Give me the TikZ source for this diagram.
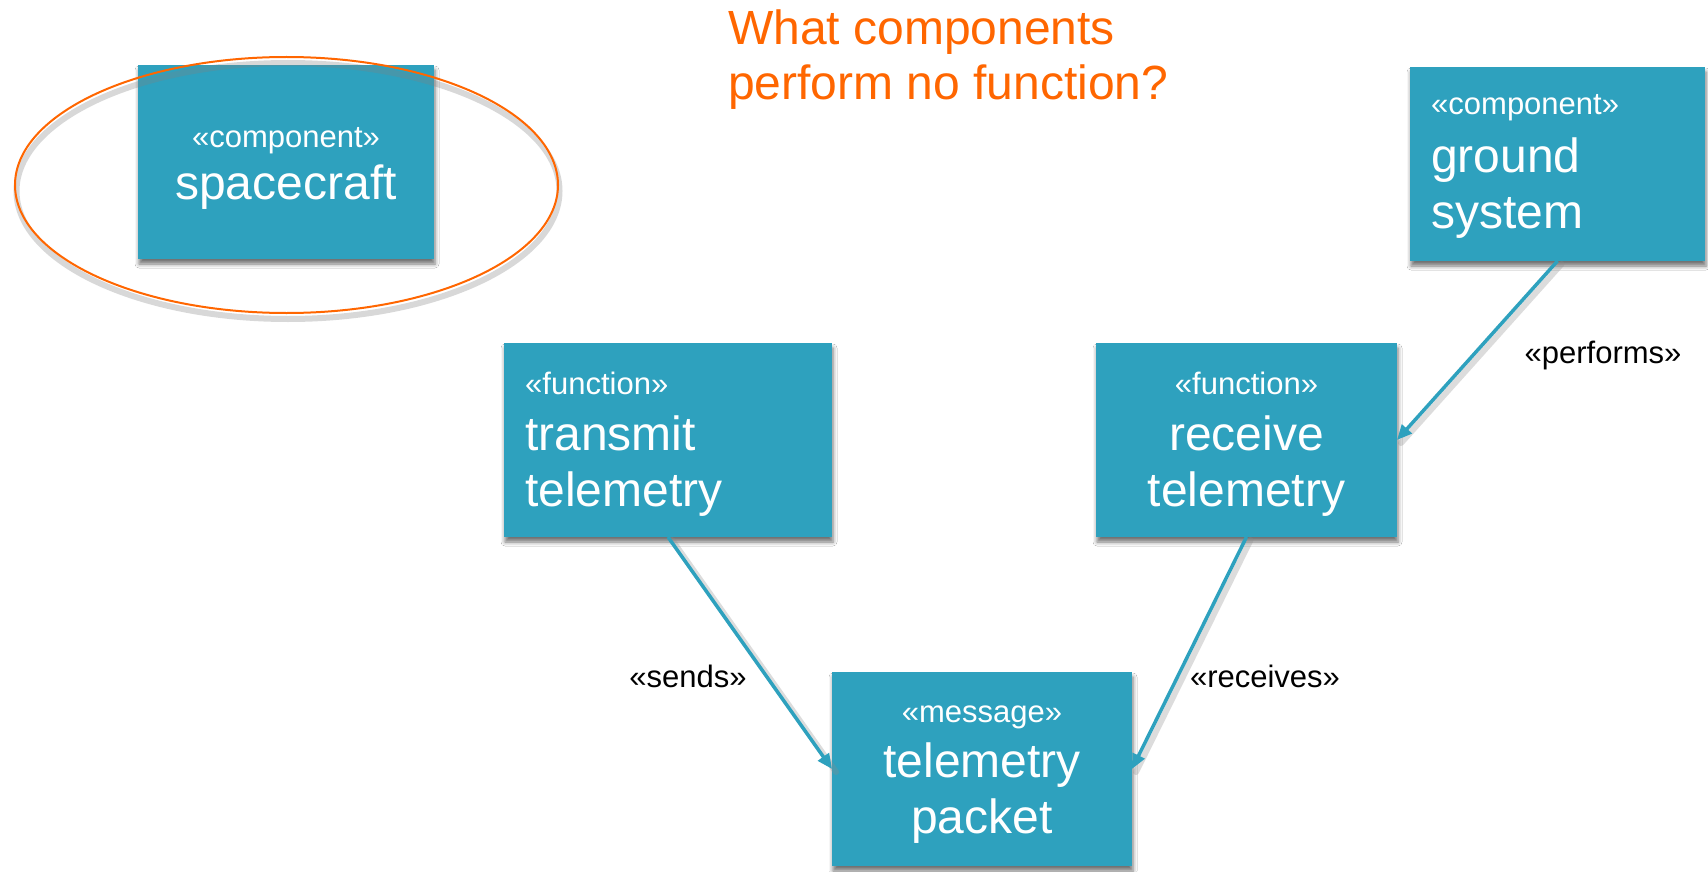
\documentclass[tikz,border=0pt]{standalone}
\usepackage{fontspec}
\setmainfont{Liberation Sans}
\usetikzlibrary{shadows.blur,arrows.meta}
\definecolor{teal}{RGB}{46,161,190}
\definecolor{orng}{RGB}{255,102,0}
\tikzset{
  box/.style={fill=teal, draw=none, inner sep=0pt, outer sep=0pt,
    blur shadow={shadow xshift=1pt, shadow yshift=-5pt, shadow blur radius=4pt, shadow opacity=55}},
  stereo/.style={text=white, inner sep=0pt, font=\fontsize{31}{36}\selectfont},
  big/.style={text=white, inner sep=0pt, font=\fontsize{48}{55}\selectfont},
  elabel/.style={text=black, inner sep=0pt, font=\fontsize{31}{36}\selectfont},
  conn/.style={draw=teal, line width=3.5pt, -{Triangle[length=15pt,width=13pt]}},
  connshadow/.style={draw=black!45, opacity=0.3, line width=6pt, line cap=round},
}
\begin{document}
\begin{tikzpicture}[x=1pt,y=-1pt]
\useasboundingbox (0,0) rectangle (1708,872);
\fill[white] (0,0) rectangle (1708,872);

% boxes
\node[box, minimum width=296pt, minimum height=194pt] (sc) at (286,162) {};
\node[box, minimum width=295pt, minimum height=194pt] (gs) at (1557.5,164) {};
\node[box, minimum width=328pt, minimum height=194pt] (tt) at (668,440) {};
\node[box, minimum width=301pt, minimum height=194pt] (rt) at (1246.5,440) {};
\node[box, minimum width=300pt, minimum height=194pt] (tp) at (982,769) {};

% ellipse (shadow, then outline)
\draw[black!50, opacity=0.3, line width=6pt] (288,191) ellipse [x radius=271.5pt, y radius=128pt];
\draw[orng, line width=2pt] (286.5,185) ellipse [x radius=271.5pt, y radius=128pt];

% texts
\node[stereo, anchor=base] (sct1) at (286,147) {«component»};
\node[big, anchor=base] (sct2) at (286,199) {spacecraft};

\node[stereo, anchor=base west] (gst1) at (1431,115) {«component»};
\node[big, anchor=base west] (gst2) at (1431,172) {ground};
\node[big, anchor=base west] (gst3) at (1431,228) {system};

\node[stereo, anchor=base west] (ttt1) at (525,394) {«function»};
\node[big, anchor=base west] (ttt2) at (525,450) {transmit};
\node[big, anchor=base west] (ttt3) at (525,506) {telemetry};

\node[stereo, anchor=base] (rtt1) at (1246.5,394) {«function»};
\node[big, anchor=base] (rtt2) at (1246.5,450) {receive};
\node[big, anchor=base] (rtt3) at (1246.5,506) {telemetry};

\node[stereo, anchor=base] (tpt1) at (982,722) {«message»};
\node[big, anchor=base] (tpt2) at (982,777) {telemetry};
\node[big, anchor=base] (tpt3) at (982,833) {packet};

% title
\node[text=orng, inner sep=0pt, anchor=base west, font=\fontsize{48}{55}\selectfont] (q1) at (728,45) {What components};
\node[text=orng, inner sep=0pt, anchor=base west, font=\fontsize{48}{55}\selectfont] (q2) at (728,100) {perform no function?};

% connectors
\begin{scope}[transform canvas={shift={(4pt,-3pt)}}]
\draw[connshadow] (tt.south) -- (tp.west);
\draw[connshadow] (rt.south) -- (tp.east);
\draw[connshadow] (gs.south) -- (rt.east);
\end{scope}
\draw[conn] (tt.south) -- (tp.west);
\draw[conn] (rt.south) -- (tp.east);
\draw[conn] (gs.south) -- (rt.east);

% connector labels
\node[elabel, anchor=base] (ls) at (688,687) {«sends»};
\node[elabel, anchor=base] (lr) at (1265,687) {«receives»};
\node[elabel, anchor=base] (lp) at (1603,363) {«performs»};
\end{tikzpicture}
\end{document}
